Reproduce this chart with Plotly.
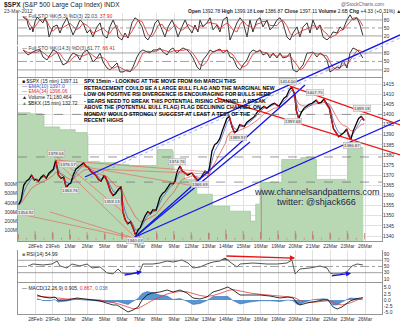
import plotly.graph_objects as go

# ---------------- data ----------------
DAY_LABELS = ["28Feb", "29Feb", "1Mar", "2Mar", "5Mar", "6Mar", "7Mar", "8Mar", "9Mar", "12Mar",
              "13Mar", "14Mar", "15Mar", "16Mar", "19Mar", "20Mar", "21Mar", "22Mar", "23Mar", "26Mar"]
SESSION_TIMES = [0.04, 0.18, 0.33, 0.48, 0.63, 0.78, 0.95]   # fraction of each trading session

PRICE = [
    1355.5, 1358, 1365, 1367, 1368, 1370, 1367.6,      # 27Feb
    1368, 1367, 1369, 1370, 1368.5, 1371, 1372.2,      # 28Feb
    1373, 1377.5, 1370, 1368.5, 1369, 1364, 1365.7,    # 29Feb
    1366, 1370, 1373, 1374, 1375, 1376, 1374.1,        # 1Mar
    1374, 1372, 1371, 1370, 1368, 1367, 1369.6,        # 2Mar
    1369, 1366, 1362, 1360, 1361, 1363, 1364.3,        # 5Mar
    1352, 1348, 1346, 1347, 1344, 1340.5, 1343.4,      # 6Mar
    1344, 1347, 1350, 1352, 1351, 1353, 1352.6,        # 7Mar
    1355, 1359, 1361, 1362, 1364, 1366, 1365.9,        # 8Mar
    1367, 1372, 1374.5, 1372, 1371, 1370, 1370.9,      # 9Mar
    1371, 1369, 1367.5, 1368, 1370, 1372, 1371.1,      # 12Mar
    1374, 1382, 1385, 1386, 1388, 1392, 1396,          # 13Mar
    1398, 1399, 1394, 1391, 1392, 1395, 1394.3,        # 14Mar
    1394, 1396, 1397, 1398, 1399, 1401, 1402.6,        # 15Mar
    1403, 1404, 1403, 1404, 1405, 1405.5, 1404.2,      # 16Mar
    1404, 1406, 1408, 1409, 1412, 1413.5, 1409.75,     # 19Mar
    1402, 1398, 1401, 1403, 1404, 1405, 1405.5,        # 20Mar
    1406, 1407, 1405.5, 1406, 1407.5, 1405, 1402.9,    # 21Mar
    1399, 1393, 1391, 1389, 1390, 1391, 1392.8,        # 22Mar
    1390, 1387.5, 1392, 1395, 1398, 1399, 1397.1,      # 23Mar
]

VOL_OPEN = [60, 55, 70, 55, 50, 55, 80, 60, 65, 55, 50, 75, 60, 55, 560, 55, 65, 50, 60, 65]
VOL_MID = [18, 15, 20, 16, 14, 16, 22, 18, 17, 15, 14, 22, 18, 16, 18, 16, 18, 15, 18, 17]
VOL_CLOSE = [90, 85, 110, 80, 75, 85, 110, 90, 95, 80, 75, 110, 95, 85, 100, 95, 90, 80, 95, 71]

GREEN_DAY = [0.0, 0.7, 1.4, 1.5, 2.4, 3.3, 3.98, 4.03, 4.7, 5.7, 6.4, 7.95, 8.01, 8.9, 8.95,
             9.6, 10.3, 11.2, 12.2, 13.4, 13.7, 13.95, 15.1, 15.2, 16.3, 17.1, 17.2, 18.9, 19.0, 19.9]
GREEN_VAL = [78.7, 78, 76.8, 70, 68.3, 66.5, 64.6, 48.8, 48.2, 47, 46.3, 46.3, 56.1, 54.9, 42.7,
             37.8, 28.7, 21.3, 18.3, 12.2, 22.6, 36, 36, 50, 51.2, 50, 37.8, 36.6, 57.3, 57.3]

STO1_DAY = [0.29, 0.52, 0.58, 0.69, 0.81, 0.86, 0.98, 1.10, 1.27, 1.44, 1.56, 1.67, 1.79, 1.96, 2.02,
            2.25, 2.42, 2.59, 2.82, 3.00, 3.17, 3.40, 3.57, 3.75, 3.98, 4.15, 4.32, 4.55, 4.73, 4.90,
            5.13, 5.30, 5.48, 5.71, 5.76, 5.99, 6.17, 6.34, 6.57, 6.74, 6.92, 7.15, 7.32, 7.49, 7.72,
            7.90, 8.07, 8.30, 8.47, 8.65, 8.88, 9.05, 9.22, 9.45, 9.63, 9.80, 10.03, 10.20, 10.37,
            10.49, 10.66, 10.89, 11.07, 11.24, 11.47, 11.64, 11.82, 12.05, 12.22, 12.39, 12.62, 12.80,
            12.97, 13.20, 13.37, 13.54, 13.78, 13.95, 14.12, 14.35, 14.52, 14.70, 14.93, 15.10, 15.27,
            15.50, 15.68, 15.85, 16.08, 16.25, 16.43, 16.66, 16.83, 17.00, 17.23, 17.41, 17.58, 17.81,
            17.98, 18.16, 18.39, 18.56, 18.73, 18.96, 19.14, 19.31, 19.54, 19.71, 19.88]
STO1_K = [91, 80, 61, 43, 54, 35, 73, 91, 80, 69, 88, 69, 16, 43, 54, 61, 31, 61, 88, 54, 24, 54, 80,
          69, 31, 43, 16, 54, 69, 24, 12, 54, 80, 43, 16, 5, 31, 12, 69, 88, 80, 54, 16, 5, 31, 69,
          80, 43, 16, 54, 80, 54, 16, 54, 80, 54, 31, 61, 35,
          80, 54, 69, 88, 43, 61, 35, 80, 91, 5, 31, 69, 88, 73, 16, 80, 35, 80, 88, 54, 80, 43, 54,
          80, 88, 69, 16, 5, 31, 54, 16, 54, 69, 31, 80, 43, 61, 16, 5, 16, 35, 31, 54, 43, 80, 99,
          80, 88, 61, 22]

STO2_DAY = [0.29, 0.58, 0.86, 1.10, 1.27, 1.44, 1.67, 1.84, 2.02, 2.25, 2.42, 2.59, 2.82, 3.00, 3.17,
            3.40, 3.57, 3.75, 3.98, 4.15, 4.32, 4.55, 4.73, 4.90, 5.13, 5.30, 5.48, 5.71, 5.88, 6.05,
            6.28, 6.46, 6.63, 6.86, 7.03, 7.20, 7.44, 7.61, 7.78, 8.01, 8.18, 8.36, 8.59, 8.76, 8.93,
            9.16, 9.34, 9.51, 9.74, 9.91, 10.09, 10.32, 10.49,
            10.66, 10.89, 11.07, 11.24, 11.47, 11.64, 11.82, 12.05, 12.22, 12.39, 12.62, 12.80, 12.97,
            13.20, 13.37, 13.54, 13.78, 13.95, 14.12, 14.35, 14.52, 14.70, 14.93, 15.10, 15.27, 15.50,
            15.68, 15.85, 16.08, 16.25, 16.43, 16.66, 16.83, 17.00, 17.23, 17.41, 17.58, 17.81, 17.98,
            18.16, 18.39, 18.56, 18.73, 18.96, 19.14, 19.31, 19.54, 19.71, 19.88]
STO2_K = [90.6, 72.9, 83.5, 90.6, 90.6, 65.9, 55.3, 72.9, 90.6, 83.5, 62.4, 37.6, 44.7, 65.9, 80,
          72.9, 55.3, 80, 90.6, 72.9, 48.2, 62.4, 80, 48.2, 27, 20, 30.6, 44.7, 12.9, 12.9,
          20, 12.9, 30.6, 65.9, 83.5, 90.6, 83.5, 80, 90.6, 90.6, 97.6, 83.5, 72.9, 90.6, 97.6,
          80, 90.6, 97.6, 90.6, 80, 62.4, 30.6, 20,
          55.3, 72.9, 90.6, 83.5, 90.6, 94.1, 80, 90.6, 65.9, 62.4, 30.6, 20, 37.6,
          55.3, 80, 90.6, 83.5, 90.6, 72.9, 80, 62.4, 80, 62.4, 80, 62.4, 65.9,
          80, 20, 12.9, 27, 37.6, 80, 80, 83.5, 65.9, 80, 72.9, 55.3, 12.9,
          20, 30.6, 27, 55.3, 27, 80, 97.6, 90.6, 80, 61.8]

RSI_DAY = [0.58, 0.86, 1.44, 1.96, 2.25, 2.42, 2.82, 3.11, 3.57, 3.98, 4.27, 4.73, 5.13, 5.48, 5.76,
           5.99, 6.46, 6.86, 7.03, 7.20, 7.78, 8.18, 8.59, 8.93, 9.45, 9.80, 10.09, 10.49, 10.89,
           11.24, 11.64, 11.93, 12.22, 12.62, 12.80, 13.54, 14.35, 14.93, 15.50, 15.79, 15.97, 16.25,
           16.83, 17.41, 17.81, 17.98, 18.16, 18.56, 18.96, 19.25, 19.54, 19.88]
RSI_VAL = [51.6, 58, 54.8, 58, 67.6, 51.6, 45.2, 58, 51.6, 58, 45.2, 48.4, 29.2, 26, 42, 29.2, 26,
           29.2, 35.6, 58, 58, 61.2, 67.6, 64.4, 70.8, 61.2, 45.2, 48.4, 58, 64.4, 67.6, 77, 64.4,
           48.4, 58, 61.2, 58, 58, 61.2, 70.8, 26, 42, 45.2, 51.6, 45.2, 29.2, 26, 26, 32.4, 51.6,
           58, 55]

MACD_DAY = [1.10, 1.44, 1.84, 2.13, 2.31, 2.82, 3.40, 3.75, 4.32, 4.73, 5.13, 5.48, 5.71, 5.99, 6.17,
            6.34, 6.63, 6.92, 7.15, 7.44, 7.72, 8.18, 8.59, 8.93, 9.34, 9.74, 10.09, 10.49, 10.89,
            11.24, 11.64, 12.10, 12.39, 12.80, 13.37, 13.95, 14.52, 15.10, 15.56, 15.85, 16.08, 16.25,
            16.66, 17.00, 17.58, 17.87, 18.16, 18.39, 18.67, 19.14, 19.54, 19.88]
MACD_LINE = [2.0, 1.2, 0.8, 1.2, 0, 0, 0.8, 0.4, 0, -0.4, -1.2, -2.0, -2.0, -3.2, -4.0, -4.8, -4.0,
             -2.8, 0, 2.0, 2.8, 3.2, 4.0, 3.2, 4.0, 2.8, 0.8, 0.4, 1.2, 3.2, 4.0, 5.2, 4.0, 2.0, 2.0,
             2.0, 1.6, 0.8, 1.2, 0.8, -1.2, -2.0, -1.2, -0.8, 0, 0, -2.8, -3.6, -2.8, -0.4, 0.6, 0.905]
MACD_SIGNAL = [1.5, 1.4, 1.1, 1.0, 0.8, 0.4, 0.4, 0.4, 0.2, 0, -0.5, -1.0, -1.4, -2.0, -2.5, -3.0,
               -3.5, -3.4, -2.6, -1.4, -0.2, 1.2, 2.4, 3.0, 3.4, 3.3, 2.6, 1.8, 1.4, 1.8, 2.6, 3.8,
               4.2, 3.6, 2.8, 2.3, 1.9, 1.4, 1.2, 1.1, 0.5, -0.2, -0.8, -0.9, -0.5, -0.3, -0.8,
               -1.6, -2.0, -1.2, 0.0, 0.867]

# chart-author trendlines: (day0, price0, day1, price1)
BLUE_LINES = [(3.86, 1369.1, 22.02, 1439.2), (6.74, 1339.5, 16.54, 1414.5),
              (6.74, 1339.5, 22.02, 1397.2), (6.74, 1339.5, 13.37, 1386.4)]
BLUE_LIGHT = [(3.86, 1367.6, 22.02, 1437.7)]
RED_LINES = [(15.68, 1414.0, 22.02, 1394.8), (11.47, 1408.1, 22.02, 1380.0)]
RED_THIN = [(2.13, 1377.5, 6.74, 1339.5), (2.13, 1377.5, 11.07, 1371.6),
            (2.25, 1376.5, 10.49, 1364.2), (2.25, 1379.0, 6.17, 1351.0),
            (-0.46, 1351.9, 6.86, 1338.5), (1.84, 1351.9, 6.86, 1338.5),
            (4.73, 1373.0, 11.07, 1370.6)]

LABEL_TEXT = ["1354.92", "1378.04", "1376.17", "1363.76", "1359.13", "1340.03", "1374.76", "1366.69",
              "1389.97", "1414.00", "1397.68", "1407.75", "1386.87", "1399.18"]
LABEL_DAY = [0.45, 2.19, 2.88, 3.0, 5.42, 6.74, 9.16, 10.49, 12.68, 15.56, 15.85, 17.12, 19.25, 19.83]
LABEL_PRICE = [1351.8, 1380.5, 1375.5, 1362.7, 1356.8, 1337.8, 1377, 1365.2, 1388.4, 1416, 1396.3,
               1410.6, 1384.9, 1402.7]

RSI_ARROWS = [((6.05, 21), (7.15, 33), "blue"), ((18.0, 19), (19.2, 28), "blue"),
              ((11.93, 84), (15.97, 77), "red")]

NOTE = ["SPX 15min - LOOKING AT THE MOVE FROM 6th MARCH THIS",
        "RETRACEMENT COULD BE A LARGE BULL FLAG AND THE MARGINAL NEW",
        "LOW ON POSITIVE RSI DIVERGENCE IS ENCOURAGING FOR BULLS HERE",
        "- BEARS NEED TO BREAK THIS POTENTIAL RISING CHANNEL. A BREAK",
        "ABOVE THE (POTENTIAL BULL FLAG) FLAG DECLINING CHANNEL ON",
        "MONDAY WOULD STRONGLY SUGGEST AT LEAST A TEST OF THE",
        "RECENT HIGHS"]

# ---------------- helpers ----------------
W, H = 400, 323
X0, XDAY20, XEND = 18, 365, 382   # plot left, 26Mar gridline, plot right (px)


def py(px):
    return 1 - px / H


def ema(vals, alpha):
    out, e = [], vals[0]
    for v in vals:
        e = alpha * v + (1 - alpha) * e
        out.append(e)
    return out


def sma3(vals):
    out = []
    for i in range(len(vals)):
        w = vals[max(0, i - 2):i + 1]
        out.append(sum(w) / len(w))
    return out


px_x = [d + f for d in range(len(PRICE) // len(SESSION_TIMES)) for f in SESSION_TIMES]

FONT = "Liberation Sans, Arial, sans-serif"
fig = go.Figure()

# green overlay area (base of price panel)
fig.add_trace(go.Scatter(x=GREEN_DAY, y=GREEN_VAL, xaxis="x2", yaxis="y3", mode="lines",
                         line=dict(color="rgb(150,195,145)", width=0.6, shape="hv"),
                         fill="tozeroy", fillcolor="rgb(183,216,178)", hoverinfo="skip"))

# volume
vx, vy = [], []
for d in range(len(VOL_OPEN)):
    vx += [d + 0.02, d + 0.5, d + 0.98]
    vy += [VOL_OPEN[d], VOL_MID[d], VOL_CLOSE[d]]
fig.add_trace(go.Bar(x=vx, y=vy, xaxis="x2", yaxis="y6", width=0.05,
                     marker=dict(color="rgba(190,110,100,0.85)", line=dict(width=0))))

# EMAs and price
fig.add_trace(go.Scatter(x=px_x, y=ema(PRICE, 0.22), xaxis="x2", yaxis="y7", mode="lines",
                         line=dict(color="rgb(235,90,90)", width=0.8)))
fig.add_trace(go.Scatter(x=px_x, y=ema(PRICE, 0.55), xaxis="x2", yaxis="y7", mode="lines",
                         line=dict(color="rgb(80,100,210)", width=0.8)))
fig.add_trace(go.Scatter(x=px_x, y=PRICE, xaxis="x2", yaxis="y7", mode="lines",
                         line=dict(color="black", width=1.3)))
rx, ry = [], []
for i in range(1, len(PRICE)):
    if PRICE[i] < PRICE[i - 1]:
        rx += [px_x[i - 1], px_x[i], None]
        ry += [PRICE[i - 1], PRICE[i], None]
fig.add_trace(go.Scatter(x=rx, y=ry, xaxis="x2", yaxis="y7", mode="lines",
                         line=dict(color="rgb(220,20,20)", width=1.3)))

# stochastics
fig.add_trace(go.Scatter(x=STO1_DAY, y=STO1_K, xaxis="x", yaxis="y", mode="lines",
                         line=dict(color="black", width=0.8)))
fig.add_trace(go.Scatter(x=STO1_DAY, y=sma3(STO1_K), xaxis="x", yaxis="y", mode="lines",
                         line=dict(color="rgb(225,30,30)", width=0.8)))
fig.add_trace(go.Scatter(x=STO2_DAY, y=STO2_K, xaxis="x", yaxis="y2", mode="lines",
                         line=dict(color="black", width=0.8)))
fig.add_trace(go.Scatter(x=STO2_DAY, y=sma3(STO2_K), xaxis="x", yaxis="y2", mode="lines",
                         line=dict(color="rgb(225,30,30)", width=0.8)))

# RSI
fig.add_trace(go.Scatter(x=RSI_DAY, y=[70] * len(RSI_DAY), xaxis="x", yaxis="y4", mode="lines",
                         line=dict(width=0), hoverinfo="skip"))
fig.add_trace(go.Scatter(x=RSI_DAY, y=[max(v, 70) for v in RSI_VAL], xaxis="x", yaxis="y4",
                         mode="lines", line=dict(width=0), fill="tonexty",
                         fillcolor="rgb(90,140,90)", hoverinfo="skip"))
fig.add_trace(go.Scatter(x=RSI_DAY, y=RSI_VAL, xaxis="x", yaxis="y4", mode="lines",
                         line=dict(color="rgb(40,40,40)", width=0.8)))

# MACD
hist = [m - s for m, s in zip(MACD_LINE, MACD_SIGNAL)]
fig.add_trace(go.Scatter(x=MACD_DAY, y=hist, xaxis="x", yaxis="y5", mode="lines",
                         line=dict(color="rgb(40,90,170)", width=0.5), fill="tozeroy",
                         fillcolor="rgba(60,130,200,0.85)"))
fig.add_trace(go.Scatter(x=MACD_DAY, y=MACD_SIGNAL, xaxis="x", yaxis="y5", mode="lines",
                         line=dict(color="rgb(230,60,60)", width=0.8)))
fig.add_trace(go.Scatter(x=MACD_DAY, y=MACD_LINE, xaxis="x", yaxis="y5", mode="lines",
                         line=dict(color="black", width=0.8)))


# trendlines on a full-figure overlay using the price scale
def add_lines(lines, color, width, dash="solid"):
    xs, ys = [], []
    for (a, b, c, d) in lines:
        xs += [a, c, None]
        ys += [b, d, None]
    fig.add_trace(go.Scatter(x=xs, y=ys, xaxis="x8", yaxis="y8", mode="lines",
                             line=dict(color=color, width=width, dash=dash), hoverinfo="skip"))


add_lines(RED_THIN, "rgba(240,80,80,0.8)", 0.7)
add_lines(BLUE_LIGHT, "rgba(120,140,255,0.9)", 0.8, "dot")
add_lines(BLUE_LINES, "rgb(20,20,235)", 1.3)
add_lines(RED_LINES, "rgb(240,20,20)", 1.3)

# ---------------- axes ----------------
px_per_day = (XDAY20 - X0) / 20.0
xmax = (XEND - X0) / px_per_day
ppp = 2.0267   # px per price point
xdom = [X0 / W, XEND / W]
grid = "rgb(225,225,225)"
tickf = dict(family=FONT, size=5, color="#333")


def yax(dom_px, rng, **kw):
    d = dict(domain=[py(dom_px[1]), py(dom_px[0])], range=rng, side="right", showgrid=False,
             zeroline=False, showline=True, linecolor="rgb(150,150,150)", linewidth=0.6,
             mirror=True, ticks="", tickfont=tickf, fixedrange=True)
    d.update(kw)
    return d


xcommon = dict(domain=xdom, range=[0, xmax], tickvals=list(range(1, 21)), ticktext=DAY_LABELS,
               showgrid=True, gridcolor=grid, gridwidth=0.6, zeroline=False, tickfont=tickf,
               ticks="", showline=True,
               linecolor="rgb(150,150,150)", linewidth=0.6, mirror=True, fixedrange=True)

layout = dict(
    width=W, height=H, margin=dict(l=0, r=0, t=0, b=0), showlegend=False,
    paper_bgcolor="white", plot_bgcolor="rgba(0,0,0,0)",
    xaxis=dict(xcommon, anchor="y5"),
    xaxis2=dict(xcommon, anchor="y3", matches="x"),
    yaxis=yax((13, 45), [-14, 106], tickvals=[20, 50, 80], anchor="x"),
    yaxis2=yax((46, 77), [-5, 104.6], tickvals=[20, 50, 80], anchor="x"),
    yaxis3=yax((78, 241), [0, 100], showticklabels=False, anchor="x2"),
    yaxis6=dict(overlaying="y3", side="left", range=[-15, 1760], tickvals=[100, 200, 300, 400, 500, 600],
                ticktext=["100M", "200M", "300M", "400M", "500M", "600M"], showgrid=False,
                zeroline=False, tickfont=tickf, anchor="x2", fixedrange=True),
    yaxis7=dict(overlaying="y3", side="right", anchor="x2",
                range=[1415 - (241 - 84) / ppp, 1415 + (84 - 78) / ppp],
                tickvals=list(range(1340, 1416, 5)), showgrid=True, gridcolor=grid, gridwidth=0.6,
                zeroline=False, tickfont=tickf, fixedrange=True),
    yaxis4=yax((250, 282), [-0.1, 103.2], tickvals=[10, 30, 50, 70, 90], anchor="x"),
    yaxis5=yax((283, 314), [-5.6, 6.8], tickvals=[-5, -2.5, 0, 2.5, 5],
               ticktext=["-5.0", "-2.5", "0.0", "2.5", "5.0"], anchor="x"),
    xaxis8=dict(domain=[0, 1], range=[-X0 / px_per_day, (W - X0) / px_per_day], visible=False,
                anchor="y8", fixedrange=True),
    yaxis8=dict(domain=[0, 1], range=[1415 - (H - 84) / ppp, 1415 + 84 / ppp], visible=False,
                anchor="x8", fixedrange=True),
)
fig.update_layout(**layout)

# reference lines
shapes = []
for yref, lv in (("y", (20, 80)), ("y2", (20, 80)), ("y4", (30, 70))):
    for v in lv:
        shapes.append(dict(type="line", xref="x", yref=yref, x0=0, x1=xmax, y0=v, y1=v,
                           line=dict(color="rgb(120,120,120)", width=0.7)))
    shapes.append(dict(type="line", xref="x", yref=yref, x0=0, x1=xmax, y0=50, y1=50,
                       line=dict(color="rgb(120,120,120)", width=0.7, dash="dashdot")))
for v in (1366.6, 1379.0, 1400.0):
    shapes.append(dict(type="line", xref="x2", yref="y7", x0=0, x1=xmax, y0=v, y1=v,
                       line=dict(color="rgb(110,110,110)", width=0.7, dash="dash")))
fig.update_layout(shapes=shapes)

# ---------------- annotations ----------------
ann = []


def txt(x, y, s, size=5, color="#222", bold=False, anchor="left", fam=FONT):
    ann.append(dict(x=x / W, y=py(y), xref="paper", yref="paper", text=("<b>%s</b>" % s) if bold else s,
                    showarrow=False, xanchor=anchor, yanchor="middle",
                    font=dict(family=fam, size=size, color=color)))


txt(2, 4.5, "<b>$SPX</b> (S&P 500 Large Cap Index) INDX", size=6.5)
txt(2, 10.5, "23-Mar-2012", size=5, color="#444")
txt(386, 4, "@StockCharts.com", size=5, color="#666", anchor="right")
txt(186, 10.5, "<b>Open</b> 1392.78 <b>High</b> 1399.18 <b>Low</b> 1386.87 <b>Close</b> 1397.11 "
               "<b>Volume</b> 2.6B <b>Chg</b> +4.33 (+0.31%) ▲", size=5)
txt(20, 15.5, "— Full STO %K(5,3) %D(3) 22.03, <span style='color:#e02020'>37.90</span>", size=5, color="#444")
txt(20, 48, "— Full STO %K(14,3) %D(3) 61.77, <span style='color:#e02020'>66.41</span>", size=5, color="#444")
txt(20, 80.5, "■ $SPX (15 min) 1397.11", size=5)
txt(20, 86, "— EMA(10) 1397.0", size=5, color="rgb(60,80,200)")
txt(20, 91.5, "— EMA(34) 1396.06", size=5, color="rgb(220,50,50)")
txt(20, 97, "▲ Volume 71,180,464", size=5)
txt(20, 102.5, "<span style='color:rgb(90,150,90)'>▲</span> $BKX (15 min) 132.72", size=5)
txt(20, 254, "<span style='color:rgb(90,140,90)'>■</span> RSI(14) 54.99", size=5)
txt(20, 287.5, "— MACD(12,26,9) 0.905, <span style='color:#e03030'>0.867</span>, "
               "<span style='color:#3070c0'>0.038</span>", size=5)

for i, line in enumerate(NOTE):
    txt(82, 81 + i * 6.55, line, size=5.2, color="black", bold=True,
        fam="Liberation Sans Narrow, Arial Narrow, Liberation Sans, sans-serif")

txt(317, 192, "www.channelsandpatterns.com", size=9, color="rgb(30,30,70)", anchor="center")
txt(316, 202, "twitter: @shjack666", size=9, color="rgb(30,30,70)", anchor="center")

for t, d, p in zip(LABEL_TEXT, LABEL_DAY, LABEL_PRICE):
    ann.append(dict(x=d, y=p, xref="x2", yref="y7", text=t, showarrow=False,
                    font=dict(family=FONT, size=4.3, color="#333"), bgcolor="rgba(235,235,235,0.9)",
                    bordercolor="rgb(170,170,170)", borderwidth=0.5, borderpad=0.5))

for (a, b, col) in RSI_ARROWS:
    ann.append(dict(x=b[0], y=b[1], ax=a[0], ay=a[1], xref="x", yref="y4", axref="x", ayref="y4",
                    text="", showarrow=True, arrowhead=2, arrowsize=0.8, arrowwidth=1.3,
                    arrowcolor="rgb(20,20,230)" if col == "blue" else "rgb(235,20,20)"))

fig.update_layout(annotations=ann)
fig.write_html("out.html")
